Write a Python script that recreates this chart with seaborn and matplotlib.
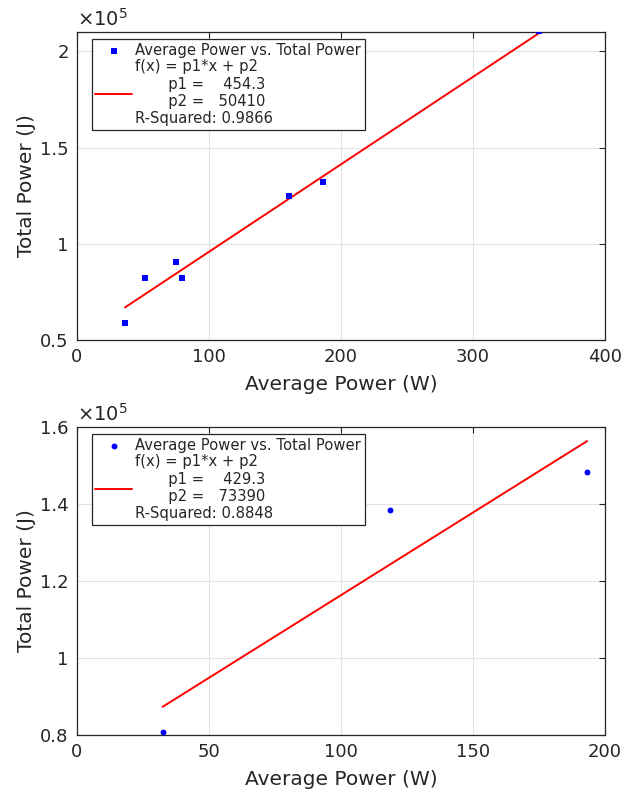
import numpy as np
import pandas as pd
import seaborn as sns
import matplotlib.pyplot as plt
from matplotlib.ticker import FuncFormatter

# points
avg_power_1 = [36.4, 51.7, 75.0, 79.3, 160.4, 186.6, 350.0]
total_power_1 = [59000, 82300, 90600, 82100, 124600, 131900, 210400]
fit_1 = (454.3, 50410, 0.9866)

avg_power_2 = [32.4, 118.6, 193.2]
total_power_2 = [80800, 138500, 148300]
fit_2 = (429.3, 73390, 0.8848)

xticks_1 = [0, 100, 200, 300, 400]
yticks_1 = [50000, 100000, 150000, 200000]
xticks_2 = [0, 50, 100, 150, 200]
yticks_2 = [80000, 100000, 120000, 140000, 160000]

sns.set_style("whitegrid")
plt.rcParams['font.family'] = ['DejaVu Sans']

dark = '#262626'


def draw_panel(ax, x, y, fit, marker, size, xticks, yticks, xlim, ylim):
    p1, p2, r2 = fit
    df = pd.DataFrame({'avg': x, 'total': y})
    sns.scatterplot(data=df, x='avg', y='total', ax=ax, marker=marker, s=size,
                    color='blue', linewidth=0, zorder=3,
                    label='Average Power vs. Total Power')
    xs = np.array([min(x), max(x)])
    fit_label = ('f(x) = p1*x + p2\n'
                 f'       p1 =    {p1:g}\n'
                 f'       p2 =   {p2:g}\n'
                 f'R-Squared: {r2:g}')
    sns.lineplot(x=xs, y=p1 * xs + p2, ax=ax, color='red', linewidth=1.4,
                 label=fit_label)

    ax.set_xlim(xlim)
    ax.set_ylim(ylim)
    ax.set_xticks(xticks)
    ax.set_yticks(yticks)
    ax.yaxis.set_major_formatter(FuncFormatter(lambda v, _: f'{v / 1e5:g}'))
    ax.set_xlabel('Average Power (W)', fontsize=14.5, color=dark, labelpad=6)
    ax.set_ylabel('Total Power (J)', fontsize=14.5, color=dark, labelpad=3)
    ax.tick_params(direction='in', length=4, width=0.8, colors=dark,
                   labelsize=13, top=True, right=True, pad=6)
    ax.grid(True, color='#e3e3e3', linewidth=0.8)
    for sp in ax.spines.values():
        sp.set_color(dark)
        sp.set_linewidth(0.9)
    ax.text(0, 1.008, r'$\times10^{5}$', transform=ax.transAxes,
            ha='left', va='bottom', fontsize=14, color=dark)

    leg = ax.legend(loc='upper left', bbox_to_anchor=(0.028, 0.977),
                    borderaxespad=0, fontsize=10.6, frameon=True, fancybox=False,
                    edgecolor=dark, framealpha=1, handlelength=2.5,
                    handletextpad=0.2, borderpad=0.25, labelspacing=0.1)
    leg.get_frame().set_linewidth(0.9)


fig = plt.figure(figsize=(6.25, 7.95), dpi=100)
ax1 = fig.add_axes([0.1232, 0.5723, 0.8448, 0.3874])
ax2 = fig.add_axes([0.1232, 0.0755, 0.8448, 0.3874])

draw_panel(ax1, avg_power_1, total_power_1, fit_1, 's', 14,
           xticks_1, yticks_1, (0, 400), (50000, 210000))
draw_panel(ax2, avg_power_2, total_power_2, fit_2, 'o', 18,
           xticks_2, yticks_2, (0, 200), (80000, 160000))

fig.savefig('out.png', dpi=100)
